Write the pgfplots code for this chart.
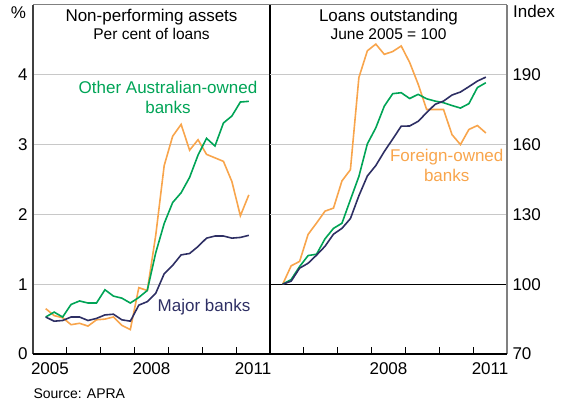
\documentclass[border=0pt]{standalone}
\usepackage{pgfplots}
\pgfplotsset{compat=1.18}
\usepackage{fontspec}
\setmainfont{Liberation Sans}
\definecolor{navy}{HTML}{2E2F64}
\definecolor{rbagreen}{HTML}{00A456}
\definecolor{rbaorange}{HTML}{F8A54C}
\definecolor{gridc}{HTML}{C8C8C8}
\newcommand\fA{\fontsize{17}{20}\selectfont}
\newcommand\fB{\fontsize{15.5}{18}\selectfont}
\newcommand\fC{\fontsize{14}{16}\selectfont}

\pgfplotstableread{
x        major  other  foreign
2005.375 0.53   0.53   0.65
2005.625 0.47   0.60   0.55
2005.875 0.48   0.53   0.52
2006.125 0.53   0.71   0.42
2006.375 0.53   0.76   0.44
2006.625 0.48   0.73   0.40
2006.875 0.51   0.73   0.49
2007.125 0.56   0.92   0.50
2007.375 0.57   0.83   0.53
2007.625 0.49   0.80   0.41
2007.875 0.47   0.73   0.35
2008.125 0.70   0.81   0.95
2008.375 0.75   0.91   0.91
2008.625 0.87   1.45   1.70
2008.875 1.15   1.87   2.70
2009.125 1.27   2.17   3.12
2009.375 1.42   2.31   3.29
2009.625 1.44   2.53   2.92
2009.875 1.54   2.85   3.07
2010.125 1.66   3.09   2.86
2010.375 1.69   2.98   2.81
2010.625 1.69   3.31   2.76
2010.875 1.66   3.41   2.47
2011.125 1.67   3.61   1.98
2011.375 1.70   3.62   2.28
}\npa

\pgfplotstableread{
x        major  other  foreign
2005.375 100.0  100.0  100.0
2005.625 101.3  102.0  107.9
2005.875 106.9  107.6  109.8
2006.125 109.0  112.3  121.4
2006.375 112.5  112.9  126.3
2006.625 116.3  119.5  131.4
2006.875 121.5  124.0  132.7
2007.125 124.0  126.2  144.4
2007.375 128.2  136.3  149.2
2007.625 138.0  146.3  188.8
2007.875 146.5  160.3  200.3
2008.125 151.0  167.2  203.2
2008.375 157.0  176.5  198.8
2008.625 162.4  181.9  200.0
2008.875 167.9  182.3  202.4
2009.125 168.0  179.8  195.3
2009.375 170.0  181.6  186.0
2009.625 173.7  179.7  175.1
2009.875 177.3  178.7  175.1
2010.125 178.7  178.0  175.1
2010.375 181.3  176.8  164.3
2010.625 182.6  175.7  160.0
2010.875 184.9  177.6  166.5
2011.125 187.3  184.5  168.2
2011.375 189.0  186.6  165.0
}\loans

\pgfplotsset{
  panel/.style={
    scale only axis, width=237pt, height=349pt,
    xmin=2005, xmax=2012,
    axis line style={draw=none},
    tick align=inside,
    major tick length=0pt,
    minor tick length=7pt,
    every minor tick/.append style={line width=0.9pt, black},
    minor xtick={2006,...,2011},
    xtick pos=bottom,
    ymajorgrids,
    grid style={gridc, line width=0.9pt},
    tick label style={font=\fA},
    xticklabel style={yshift=-5pt},
    /pgf/number format/assume math mode=true,
    clip=false,
    series/.style={line width=1.6pt},
  }
}

\begin{document}
\begin{tikzpicture}
\path[use as bounding box] (-33pt,-50pt) rectangle (536pt,354pt);

\begin{axis}[panel, at={(0pt,0pt)}, anchor=south west,
  ymin=0, ymax=5, ytick={0,1,2,3,4},
  ytick pos=left, yticklabel style={xshift=-2pt},
  xtick={2005.5,2008.5,2011.5}, xticklabels={2005,2008,2011}]
  \addplot[series, rbaorange] table[x=x, y=foreign] {\npa};
  \addplot[series, rbagreen] table[x=x, y=other] {\npa};
  \addplot[series, navy] table[x=x, y=major] {\npa};
  \draw[gray, line width=1pt] (rel axis cs:0,1) -- (rel axis cs:1,1);
  \draw[black!75, line width=1.2pt] (rel axis cs:0,0) -- (rel axis cs:0,1);
  \draw[black, line width=1.2pt] (rel axis cs:0,0) -- (rel axis cs:1,0);
  \draw[black, line width=1.2pt] (rel axis cs:1,0) -- (rel axis cs:1,1);
\end{axis}

\begin{axis}[panel, at={(237pt,0pt)}, anchor=south west,
  ymin=70, ymax=220, ytick={70,100,130,160,190},
  ytick pos=right, yticklabel style={xshift=2pt},
  xtick={2008.5,2011.5}, xticklabels={2008,2011}]
  \draw[black, line width=1.1pt] (axis cs:2005,100) -- (axis cs:2012,100);
  \addplot[series, rbaorange] table[x=x, y=foreign] {\loans};
  \addplot[series, rbagreen] table[x=x, y=other] {\loans};
  \addplot[series, navy] table[x=x, y=major] {\loans};
  \draw[gray, line width=1pt] (rel axis cs:0,1) -- (rel axis cs:1,1);
  \draw[gray, line width=1.2pt] (rel axis cs:1,0) -- (rel axis cs:1,1);
  \draw[black, line width=1.2pt] (rel axis cs:0,0) -- (rel axis cs:1,0);
\end{axis}

\node[anchor=base, font=\fA] at (-14.5pt,335.7pt) {\%};
\node[anchor=base, font=\fA] at (118.5pt,332pt) {Non-performing assets};
\node[anchor=base, font=\fB] at (118.5pt,314.7pt) {Per cent of loans};
\node[anchor=base, font=\fA] at (355.5pt,332pt) {Loans outstanding};
\node[anchor=base, font=\fB] at (355.5pt,314.7pt) {June 2005 = 100};
\node[anchor=base west, inner sep=0pt, font=\fA] at (480pt,336.7pt) {Index};
\node[anchor=base, font=\fA, text=rbagreen] at (135pt,260.7pt) {Other Australian-owned};
\node[anchor=base, font=\fA, text=rbagreen] at (135pt,240.7pt) {banks};
\node[anchor=base, font=\fA, text=navy] at (171pt,42.3pt) {Major banks};
\node[anchor=base, font=\fA, text=rbaorange] at (413.7pt,192.3pt) {Foreign-owned};
\node[anchor=base, font=\fA, text=rbaorange] at (413.7pt,172.3pt) {banks};
\node[anchor=base west, inner sep=0pt, font=\fC] at (0.3pt,-44pt) {Source: APRA};
\end{tikzpicture}
\end{document}
